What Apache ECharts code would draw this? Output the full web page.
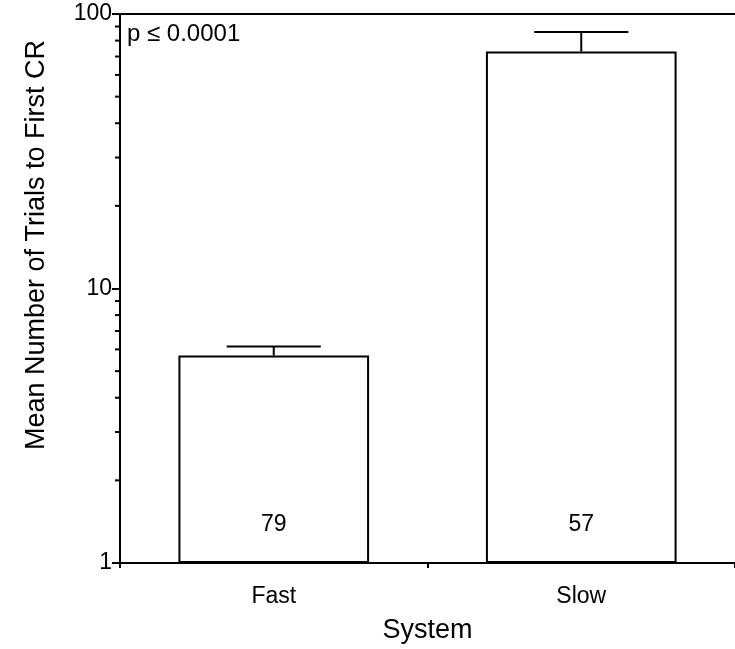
<!DOCTYPE html>
<html><head><meta charset="utf-8">
<script src="https://cdn.jsdelivr.net/npm/echarts@6/dist/echarts.min.js"></script>
<style>html,body{margin:0;padding:0;background:#fff}#c{width:735px;height:649px}</style>
</head><body><div id="c"></div>
<script>
const categories = ['Fast', 'Slow'];
const meanValues = [5.7, 73];
const errorTops = [6.15, 86];
const countLabels = ['79', '57'];
const minorTickValues = [2,3,4,5,6,7,8,9,20,30,40,50,60,70,80,90];
const font = 'Liberation Sans, Arial, Helvetica, sans-serif';

const chart = echarts.init(document.getElementById('c'), null, {renderer: 'canvas'});
chart.setOption({
  animation: false,
  backgroundColor: '#fff',
  grid: {left: 120, top: 14, width: 617, bottom: 86},
  title: {text: 'p \u2264 0.0001', left: 122, top: 17, textStyle: {fontFamily: font, fontSize: 24, fontWeight: 'normal', color: '#000'}},
  graphic: [{
    type: 'text', left: 23, top: 40, rotation: Math.PI / 2,
    style: {text: 'Mean Number of Trials to First CR', font: '27px ' + font, fill: '#000'}
  }],
  xAxis: [{
    type: 'category', data: categories, position: 'bottom',
    axisLine: {lineStyle: {color: '#000', width: 2}},
    axisTick: {show: true, alignWithLabel: false, length: 5, lineStyle: {color: '#000', width: 2}},
    axisLabel: {color: '#000', fontFamily: font, fontSize: 23, margin: 22},
    name: 'System', nameLocation: 'middle', nameGap: 54,
    nameTextStyle: {color: '#000', fontFamily: font, fontSize: 27}
  }, {
    type: 'category', data: categories, position: 'top',
    axisLine: {lineStyle: {color: '#000', width: 2}},
    axisTick: {show: false}, axisLabel: {show: false}
  }],
  yAxis: {
    type: 'log', logBase: 10, min: 1, max: 100,
    axisLine: {show: true, lineStyle: {color: '#000', width: 2}},
    axisTick: {show: true, length: 8, lineStyle: {color: '#000', width: 2}},
    axisLabel: {color: '#000', fontFamily: font, fontSize: 23, margin: 8},
    splitLine: {show: false}
  },
  series: [{
    type: 'bar', data: meanValues, barWidth: '62%',
    itemStyle: {color: '#fff', borderColor: '#000', borderWidth: 2},
    label: {
      show: true, position: 'insideBottom', distance: 27,
      formatter: p => countLabels[p.dataIndex],
      color: '#000', fontFamily: font, fontSize: 23
    },
    z: 2
  }, {
    type: 'custom',
    data: categories.map((c, i) => [i, meanValues[i], errorTops[i]]),
    renderItem: (params, api) => {
      const base = api.coord([api.value(0), api.value(1)]);
      const top = api.coord([api.value(0), api.value(2)]);
      const half = api.size([1, 0])[0] * 0.153;
      return {type: 'group', children: [
        {type: 'line', shape: {x1: base[0], y1: base[1], x2: top[0], y2: top[1]}, style: {stroke: '#000', lineWidth: 2}},
        {type: 'line', shape: {x1: top[0] - half, y1: top[1], x2: top[0] + half, y2: top[1]}, style: {stroke: '#000', lineWidth: 2}}
      ]};
    },
    z: 3
  }, {
    type: 'custom',
    data: minorTickValues.map(v => [0, v]),
    renderItem: (params, api) => {
      const p = api.coord([0, api.value(1)]);
      const x0 = params.coordSys.x;
      return {type: 'line', shape: {x1: x0 - 5, y1: p[1], x2: x0, y2: p[1]}, style: {stroke: '#000', lineWidth: 2}};
    },
    z: 3
  }]
});
</script></body></html>
